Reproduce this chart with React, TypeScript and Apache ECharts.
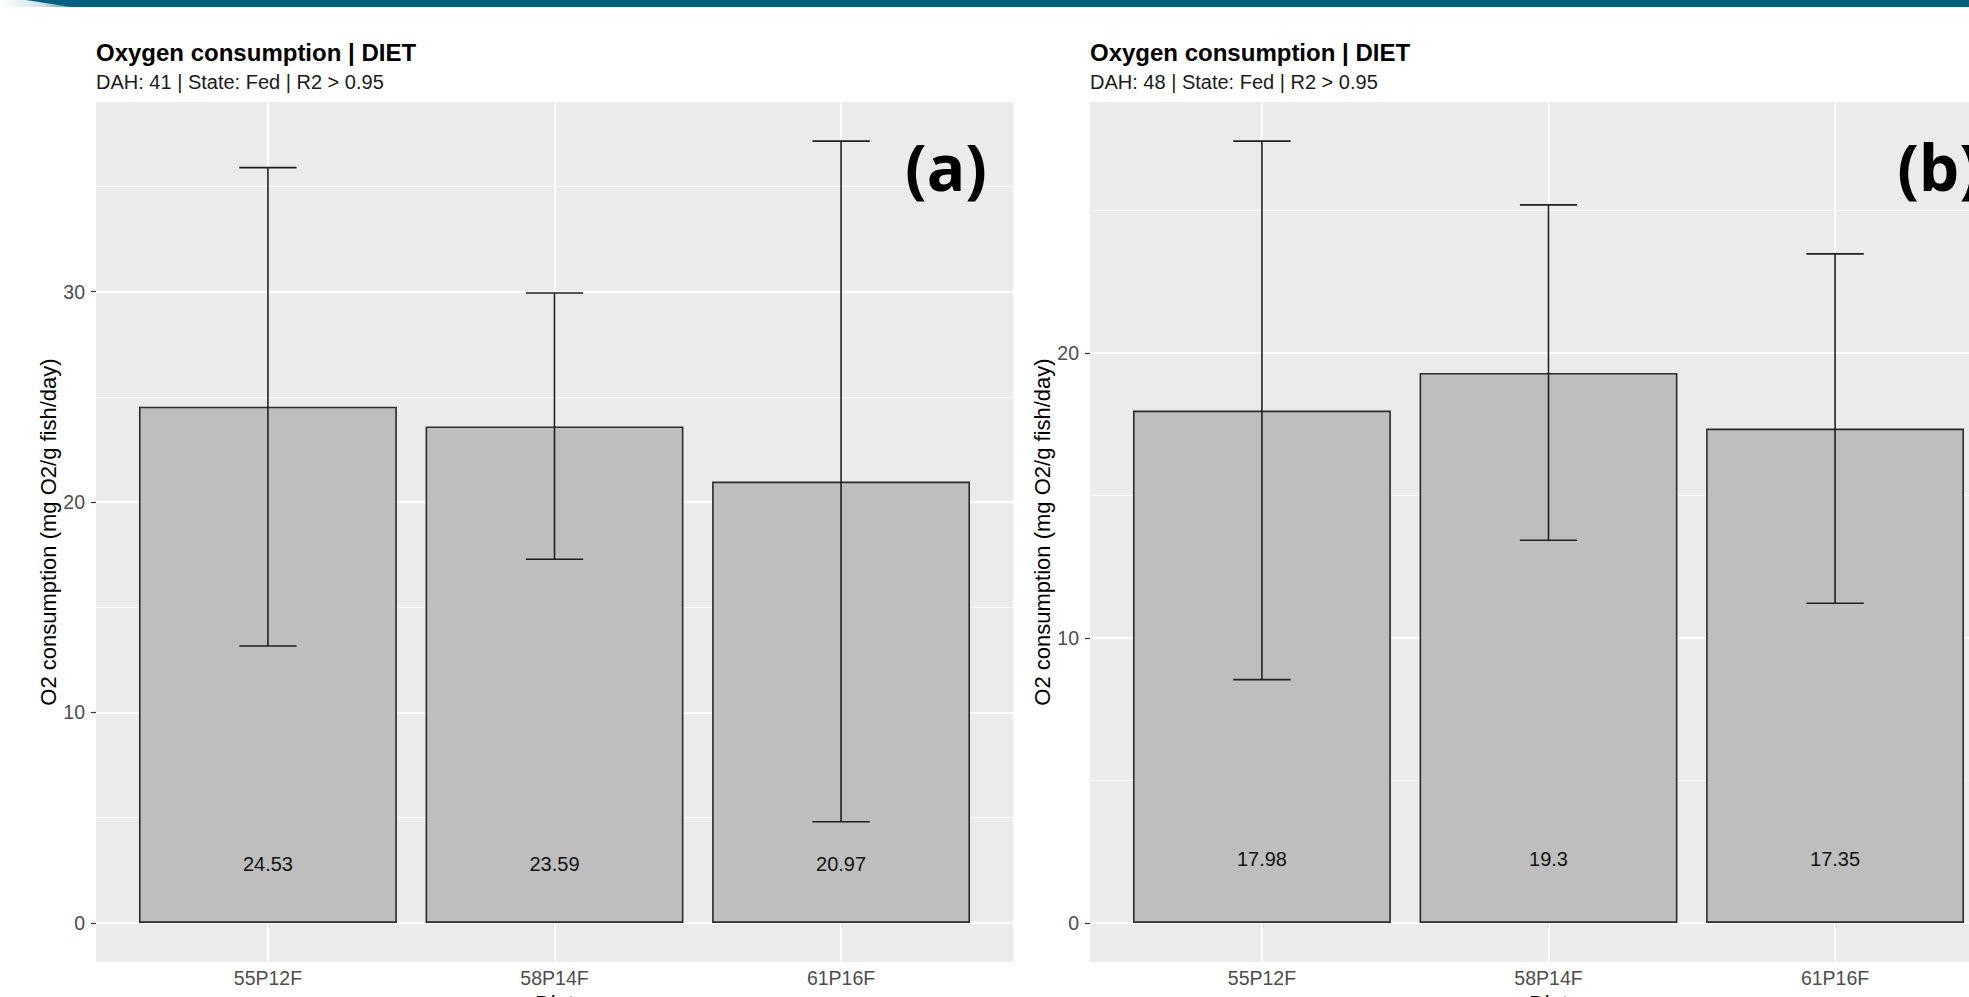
import React, { useEffect, useRef } from 'react';
import * as echarts from 'echarts';

// ---------- data ----------
const categories = ['55P12F', '58P14F', '61P16F'];

const meanA = [24.53, 23.59, 20.97];
const lowA = [13.16, 17.28, 4.81];
const highA = [35.89, 29.93, 37.15];

const meanB = [17.98, 19.3, 17.35];
const lowB = [8.54, 13.43, 11.22];
const highB = [27.44, 25.2, 23.48];

const yTicksA = [0, 10, 20, 30];
const yTicksB = [0, 10, 20];

const titles = ['Oxygen consumption | DIET', 'Oxygen consumption | DIET'];
const subtitles = ['DAH: 41 | State: Fed | R2 > 0.95', 'DAH: 48 | State: Fed | R2 > 0.95'];
const panelTags = ['(a)', '(b)'];
const yAxisTitle = 'O2 consumption (mg O2/g fish/day)';
const xAxisTitle = 'Diet';

// ---------- layout ----------
const FONT = '"Liberation Sans", Arial, Helvetica, sans-serif';
const PANEL_LEFT = [96, 1090];
const PANEL_TOP = 102;
const PANEL_W = 917;
const PANEL_H = 860;
const INSET = (PANEL_W / 3.2) * 0.1;
const LABEL_DIST = [49, 54];

const panels = [
  { mean: meanA, low: lowA, high: highA, ticks: yTicksA },
  { mean: meanB, low: lowB, high: highB, ticks: yTicksB },
];

function buildOption() {
  const grid: any[] = [];
  const xAxis: any[] = [];
  const yAxis: any[] = [];
  const series: any[] = [];
  const title: any[] = [];
  const graphic: any[] = [];

  graphic.push({
    type: 'rect',
    shape: { x: 0, y: 0, width: 1969, height: 7 },
    style: { fill: '#05607F' },
    silent: true,
    z: 100,
  });
  graphic.push({
    type: 'polygon',
    shape: { points: [[0, 0], [26, 0], [45, 3], [72, 7], [0, 7]] },
    style: {
      fill: new echarts.graphic.LinearGradient(0, 0, 1, 0, [
        { offset: 0, color: '#ffffff' },
        { offset: 0.6, color: '#cfe0e6' },
        { offset: 1, color: '#4f8aa0' },
      ]),
    },
    silent: true,
    z: 101,
  });

  panels.forEach((p, i) => {
    const maxHigh = Math.max(...p.high);
    const yMin = -0.05 * maxHigh;
    const yMax = 1.05 * maxHigh;
    const outerG = grid.length;
    const innerG = outerG + 1;
    const left = PANEL_LEFT[i];

    grid.push({
      left,
      top: PANEL_TOP,
      width: PANEL_W,
      height: PANEL_H,
      show: true,
      backgroundColor: '#EBEBEB',
      borderWidth: 0,
      containLabel: false,
      outerBoundsMode: 'none',
    });
    grid.push({
      left: left + INSET,
      top: PANEL_TOP,
      width: PANEL_W - 2 * INSET,
      height: PANEL_H,
      show: false,
      containLabel: false,
      outerBoundsMode: 'none',
    });

    // outer axes (panel grid lines + y labels)
    xAxis.push({
      gridIndex: outerG,
      type: 'category',
      data: categories,
      show: false,
    });
    yAxis.push({
      gridIndex: outerG,
      type: 'value',
      min: yMin,
      max: yMax,
      minInterval: 10,
      maxInterval: 10,
      splitNumber: 4,
      axisLine: { show: false },
      axisTick: {
        show: true,
        length: 5,
        customValues: p.ticks,
        lineStyle: { color: '#333333', width: 1.2 },
      },
      axisLabel: {
        customValues: p.ticks,
        color: '#4D4D4D',
        fontSize: 19.5,
        fontFamily: FONT,
        margin: 11,
      },
      splitLine: { show: true, lineStyle: { color: '#FFFFFF', width: 2 } },
      minorTick: { show: false, splitNumber: 2 },
      minorSplitLine: { show: true, lineStyle: { color: '#FFFFFF', width: 1 } },
      name: yAxisTitle,
      nameLocation: 'middle',
      nameGap: 36,
      nameTextStyle: { color: '#000000', fontSize: 22, fontFamily: FONT },
    });

    // inner axes (bars)
    const labelX = xAxis.length;
    xAxis.push({
      gridIndex: innerG,
      type: 'category',
      data: categories,
      position: 'bottom',
      axisLine: { show: false },
      axisTick: {
        show: true,
        alignWithLabel: true,
        length: 5,
        lineStyle: { color: '#333333', width: 1.2 },
      },
      axisLabel: { color: '#4D4D4D', fontSize: 19.5, fontFamily: FONT, margin: 6 },
      splitLine: { show: false },
      name: xAxisTitle,
      nameLocation: 'middle',
      nameGap: 26,
      nameTextStyle: { color: '#000000', fontSize: 22, fontFamily: FONT },
    });
    xAxis.push({
      gridIndex: innerG,
      type: 'category',
      data: categories,
      position: 'bottom',
      axisLine: { show: false },
      axisLabel: { show: false },
      axisTick: {
        show: true,
        inside: true,
        alignWithLabel: true,
        length: PANEL_H,
        lineStyle: { color: '#FFFFFF', width: 2 },
      },
      splitLine: { show: false },
    });
    const innerY = yAxis.length;
    yAxis.push({
      gridIndex: innerG,
      type: 'value',
      min: yMin,
      max: yMax,
      show: false,
      splitLine: { show: false },
    });

    series.push({
      type: 'bar',
      xAxisIndex: labelX,
      yAxisIndex: innerY,
      data: p.mean,
      barWidth: '90%',
      z: 2,
      itemStyle: { color: '#BEBEBE', borderColor: '#2b2b2b', borderWidth: 1.6 },
      label: {
        show: true,
        position: 'insideBottom',
        distance: LABEL_DIST[i],
        color: '#111111',
        fontSize: 20,
        fontFamily: FONT,
        formatter: (d: any) => String(d.value),
      },
    });
    series.push({
      type: 'custom',
      xAxisIndex: labelX,
      yAxisIndex: innerY,
      z: 3,
      encode: { x: 0, y: [1, 2] },
      data: categories.map((_, k) => [k, p.low[k], p.high[k]]),
      renderItem: (params: any, api: any) => {
        const x = api.value(0);
        const lo = api.coord([x, api.value(1)]);
        const hi = api.coord([x, api.value(2)]);
        const half = api.size([1, 0])[0] * 0.1;
        const style = { stroke: '#1f1f1f', lineWidth: 1.6, fill: 'none' };
        return {
          type: 'group',
          children: [
            { type: 'line', shape: { x1: hi[0], y1: hi[1], x2: lo[0], y2: lo[1] }, style },
            { type: 'line', shape: { x1: hi[0] - half, y1: hi[1], x2: hi[0] + half, y2: hi[1] }, style },
            { type: 'line', shape: { x1: lo[0] - half, y1: lo[1], x2: lo[0] + half, y2: lo[1] }, style },
          ],
        };
      },
    });

    title.push({
      text: titles[i],
      left,
      top: 40,
      padding: 0,
      textStyle: { fontSize: 24, fontWeight: 'bold', color: '#000000', fontFamily: FONT },
    });
    title.push({
      text: subtitles[i],
      left,
      top: 72,
      padding: 0,
      textStyle: { fontSize: 20, fontWeight: 'normal', color: '#1a1a1a', fontFamily: FONT },
    });

    graphic.push({
      type: 'text',
      x: left + PANEL_W - 26,
      y: 166,
      silent: true,
      z: 100,
      style: {
        text: panelTags[i],
        fill: '#000000',
        font: 'bold 64px "Open Sans", Lato, sans-serif',
        align: 'right',
        verticalAlign: 'middle',
      },
    });
  });

  return {
    animation: false,
    backgroundColor: '#FFFFFF',
    title,
    grid,
    xAxis,
    yAxis,
    series,
    graphic,
  };
}

export default function App() {
  const ref = useRef<HTMLDivElement>(null);
  useEffect(() => {
    if (!ref.current) return;
    const chart = echarts.init(ref.current, undefined, { renderer: 'svg' });
    chart.setOption(buildOption() as any);
    return () => chart.dispose();
  }, []);
  return (
    <div
      ref={ref}
      style={{ position: 'fixed', left: 0, top: 0, width: 1969, height: 997, background: '#fff' }}
    />
  );
}
